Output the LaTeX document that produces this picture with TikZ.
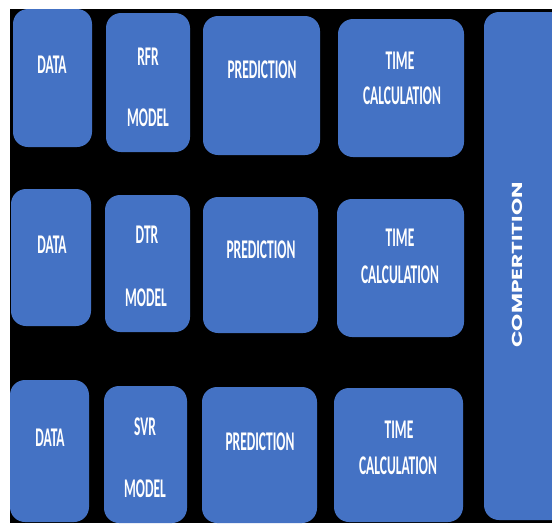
\documentclass[tikz,border=0pt]{standalone}
\usepackage{fontspec}
\usepackage{graphicx}
\setmainfont{Carlito}
\newfontfamily\compfont{Poppins}
\usetikzlibrary{fit}
\definecolor{boxblue}{HTML}{4472C4}
\newcommand{\sqz}[1]{\scalebox{0.5}[1]{#1}}
\newcommand{\wid}[1]{\scalebox{1.5}[1]{#1}}
\begin{document}
\begin{tikzpicture}[x=1pt,y=-1pt,
  box/.style={fill=boxblue, rounded corners=15pt, inner sep=0pt, outer sep=0pt},
  lbl/.style={text=white, font=\fontsize{27}{27}\selectfont\bfseries, inner sep=0pt},
  complbl/.style={text=white, font=\compfont\fontsize{14.5}{14.5}\selectfont\bfseries, rotate=90, inner sep=0pt}]
\useasboundingbox (0,0) rectangle (552,523);
\clip (0,0) rectangle (552,523);
\fill[white] (0,0) rectangle (552,523);
\fill[black] (10,9) rectangle (552,523);
% row 1
\node[box, fit={(13,9)(92,147)}] (data1) {};
\node[box, fit={(106,13)(190,152)}] (rfr) {};
\node[box, fit={(203,16)(320,155)}] (pred1) {};
\node[box, fit={(338,19)(464,157)}] (time1) {};
% row 2
\node[box, fit={(11,189)(91,326)}] (data2) {};
\node[box, fit={(105,195)(190,332)}] (dtr) {};
\node[box, fit={(203,197)(318,333)}] (pred2) {};
\node[box, fit={(337,199)(464,337)}] (time2) {};
% row 3
\node[box, fit={(10,380)(89,522)}] (data3) {};
\node[box, fit={(104,386)(187,523)}] (svr) {};
\node[box, fit={(202,387)(317,523)}] (pred3) {};
\node[box, fit={(334,388)(463,522)}] (time3) {};
% comparison
\node[box, fit={(484,12)(570,520)}] (comp) {};
% labels row 1
\node[lbl] (tdata1) at (52,65) {\sqz{DATA}};
\node[lbl] (trfr) at (148,57) {\sqz{RFR}};
\node[lbl] (tmod1) at (148,118) {\sqz{MODEL}};
\node[lbl] (tpred1) at (262,70) {\sqz{PREDICTION}};
\node[lbl] (ttime1) at (400,61) {\sqz{TIME}};
\node[lbl] (tcalc1) at (402,96) {\sqz{CALCULATION}};
% labels row 2
\node[lbl] (tdata2) at (52,245) {\sqz{DATA}};
\node[lbl] (tdtr) at (147,235) {\sqz{DTR}};
\node[lbl] (tmod2) at (146,298) {\sqz{MODEL}};
\node[lbl] (tpred2) at (261,250) {\sqz{PREDICTION}};
\node[lbl] (ttime2) at (400,238) {\sqz{TIME}};
\node[lbl] (tcalc2) at (400,275) {\sqz{CALCULATION}};
% labels row 3
\node[lbl] (tdata3) at (50,438) {\sqz{DATA}};
\node[lbl] (tsvr) at (145,427) {\sqz{SVR}};
\node[lbl] (tmod3) at (145,489) {\sqz{MODEL}};
\node[lbl] (tpred3) at (260,442) {\sqz{PREDICTION}};
\node[lbl] (ttime3) at (399,430) {\sqz{TIME}};
\node[lbl] (tcalc3) at (398,466) {\sqz{CALCULATION}};
% comparison label
\node[complbl] (tcomp) at (517,265) {\wid{COMPERTITION}};
\end{tikzpicture}
\end{document}
